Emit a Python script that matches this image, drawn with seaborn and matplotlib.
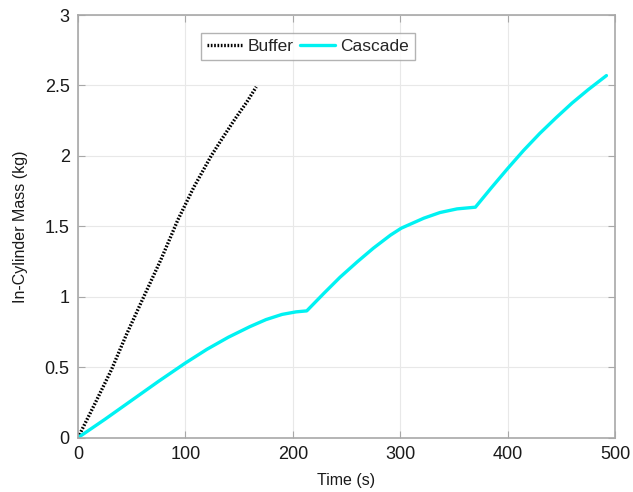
import matplotlib
matplotlib.use("Agg")
import matplotlib.pyplot as plt
import seaborn as sns
import pandas as pd
from matplotlib.ticker import FuncFormatter

# values
buffer_time = [0, 15, 31, 45, 60, 77, 93, 108, 124, 134, 146, 157, 166]
buffer_mass = [0, 0.23, 0.48, 0.73, 0.98, 1.26, 1.546, 1.78, 2.0, 2.12, 2.26, 2.38, 2.49]

cascade_time = [0, 25, 50, 75, 100, 120, 140, 160, 175, 190, 203, 213,
                229, 244, 260, 275, 291, 301, 322, 337, 353, 370,
                385, 400, 415, 430, 445, 460, 475, 492]
cascade_mass = [0, 0.13, 0.265, 0.40, 0.53, 0.627, 0.713, 0.788, 0.838, 0.875, 0.893, 0.90,
                1.025, 1.139, 1.248, 1.345, 1.438, 1.487, 1.558, 1.598, 1.624, 1.636,
                1.775, 1.91, 2.04, 2.16, 2.27, 2.375, 2.47, 2.57]

x_ticks = [0, 100, 200, 300, 400, 500]
y_ticks = [0, 0.5, 1, 1.5, 2, 2.5, 3]

sns.set_style("white")
plt.rcParams['font.family'] = ['Liberation Sans', 'DejaVu Sans']

buffer_df = pd.DataFrame({'time': buffer_time, 'mass': buffer_mass})
cascade_df = pd.DataFrame({'time': cascade_time, 'mass': cascade_mass})

fig = plt.figure(figsize=(6.33, 4.92), dpi=100)
ax = fig.add_axes([0.1232, 0.1104, 0.9716 - 0.1232, 0.9695 - 0.1104])

sns.lineplot(data=buffer_df, x='time', y='mass', ax=ax, color='black',
             linestyle=(0, (0.5, 0.5)), linewidth=2.4, label='Buffer')
sns.lineplot(data=cascade_df, x='time', y='mass', ax=ax, color='#00f2f2',
             linewidth=2.4, label='Cascade')

ax.set_xlim(0, 500)
ax.set_ylim(0, 3)
ax.set_xticks(x_ticks)
ax.set_yticks(y_ticks)
ax.yaxis.set_major_formatter(FuncFormatter(lambda v, p: f"{v:g}"))
ax.grid(True, color='#e8e8e8', linewidth=0.8)
ax.set_axisbelow(True)

for s in ax.spines.values():
    s.set_color('#a8a8a8')
    s.set_linewidth(1.2)
ax.tick_params(direction='in', length=5, width=0.8, color='#a8a8a8',
               labelsize=13, labelcolor='#1a1a1a', top=True, right=True,
               left=True, bottom=True, pad=6)

ax.set_xlabel('Time (s)', fontsize=11.5, color='#1a1a1a', labelpad=7)
ax.set_ylabel('In-Cylinder Mass (kg)', fontsize=11.5, color='#1a1a1a', labelpad=12)

leg = ax.legend(loc='upper center', bbox_to_anchor=(0.4866, 0.933),
                bbox_transform=fig.transFigure, ncol=2, fontsize=12.5,
                frameon=True, fancybox=False, handlelength=2.0,
                columnspacing=0.4, handletextpad=0.3, borderpad=0.35,
                borderaxespad=0)
leg.get_frame().set_edgecolor('#a0a0a0')
leg.get_frame().set_linewidth(1.0)

fig.savefig('out.png', dpi=100)
